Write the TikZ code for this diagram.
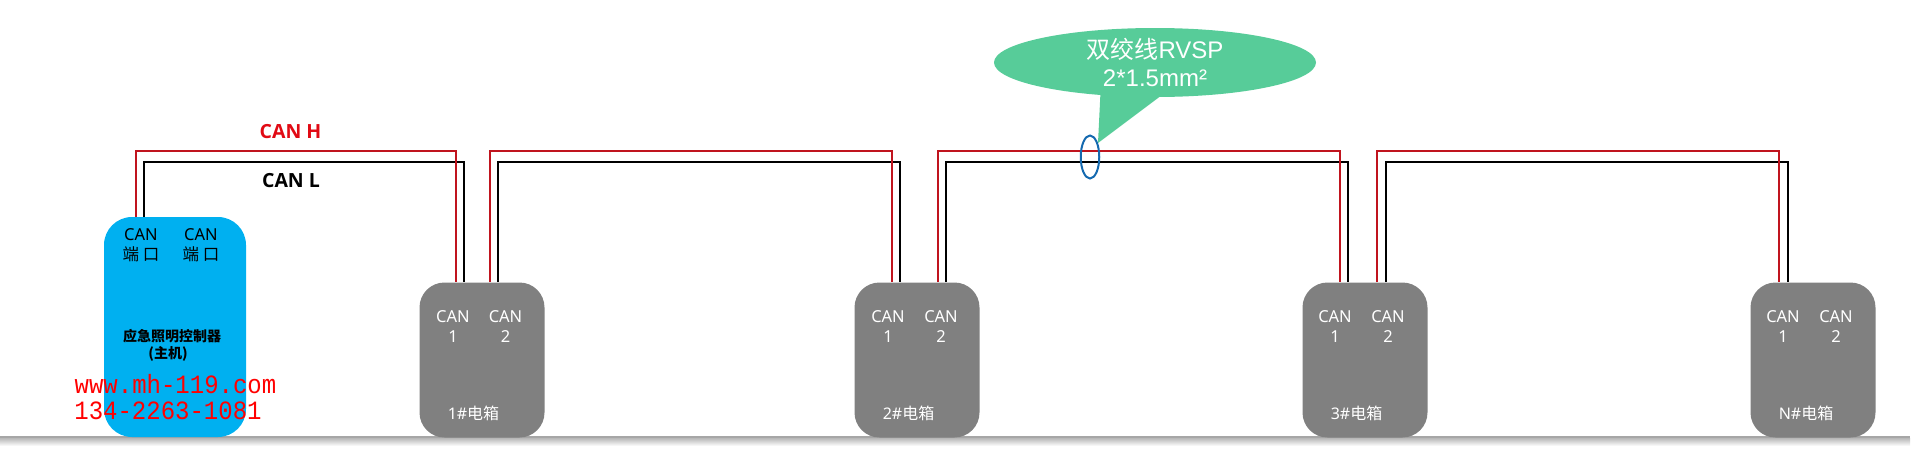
\documentclass[tikz,border=0pt]{standalone}
\usepackage{fontspec}
\setmainfont{Noto Sans}
\newfontfamily\cjk{Noto Sans CJK SC}
\newfontfamily\arialfont{Liberation Sans}
\newfontfamily\webfont{Liberation Mono}
\newfontfamily\wirefont{Open Sans}
\usetikzlibrary{shapes.geometric}
\definecolor{hostblue}{RGB}{0,176,240}
\definecolor{unitgray}{RGB}{128,128,128}
\definecolor{bubblegreen}{RGB}{87,204,153}
\definecolor{wirered}{RGB}{192,20,30}
\definecolor{namered}{RGB}{225,10,20}
\definecolor{ringblue}{RGB}{20,105,175}
\definecolor{groundgray}{RGB}{166,166,166}
\tikzset{
    hostbox/.style={rectangle, rounded corners=28pt, fill=hostblue, minimum width=142pt, minimum height=220pt, inner sep=0pt},
    unitbox/.style={rectangle, rounded corners=25pt, fill=unitgray, minimum width=125pt, minimum height=155pt, inner sep=0pt},
    portlabel/.style={align=center, font=\fontsize{16.5}{19.5}\selectfont, inner sep=0pt},
    unitname/.style={text=white, font=\fontsize{16}{19}\selectfont, inner sep=0pt},
    wireH/.style={draw=wirered, line width=2pt},
    wireL/.style={draw=black, line width=2pt},
    wirename/.style={font=\fontsize{19.5}{22}\wirefont\bfseries, inner sep=0pt},
    webtext/.style={text=red, font=\fontsize{24}{28}\webfont, inner sep=0pt, yscale=1.1}
}
\begin{document}
\begin{tikzpicture}[x=1pt, y=-1pt]
\useasboundingbox (0,0) rectangle (1912,469);
% ground
\fill [top color=black!28, bottom color=white] (0,438) rectangle (1910,446);
\draw [groundgray, line width=2pt] (0,437) -- (1910,437);
% boxes
\node [hostbox] (host) at (175,327) {};
\node [unitbox] (unit1) at (482,360) {};
\node [unitbox] (unit2) at (917,360) {};
\node [unitbox] (unit3) at (1365,360) {};
\node [unitbox] (unitN) at (1813,360) {};
% wire ends on the boxes
\coordinate (busH) at (0,150.5);
\coordinate (busL) at (0,162);
\coordinate (hostH) at (136,217);
\coordinate (hostL) at (144,217);
\coordinate (unit1inH) at (456,282);
\coordinate (unit1inL) at (464,282);
\coordinate (unit1outH) at (490,282);
\coordinate (unit1outL) at (498,282);
\coordinate (unit2inH) at (892,282);
\coordinate (unit2inL) at (900,282);
\coordinate (unit2outH) at (938,282);
\coordinate (unit2outL) at (946,282);
\coordinate (unit3inH) at (1340,282);
\coordinate (unit3inL) at (1348,282);
\coordinate (unit3outH) at (1377,282);
\coordinate (unit3outL) at (1386,282);
\coordinate (unitNinH) at (1779,282);
\coordinate (unitNinL) at (1788,282);
% wires
\draw [wireL] (hostL) -- (hostL |- busL) -- (unit1inL |- busL) -- (unit1inL);
\draw [wireH] (hostH) -- (hostH |- busH) -- (unit1inH |- busH) -- (unit1inH);
\draw [wireL] (unit1outL) -- (unit1outL |- busL) -- (unit2inL |- busL) -- (unit2inL);
\draw [wireH] (unit1outH) -- (unit1outH |- busH) -- (unit2inH |- busH) -- (unit2inH);
\draw [wireL] (unit2outL) -- (unit2outL |- busL) -- (unit3inL |- busL) -- (unit3inL);
\draw [wireH] (unit2outH) -- (unit2outH |- busH) -- (unit3inH |- busH) -- (unit3inH);
\draw [wireL] (unit3outL) -- (unit3outL |- busL) -- (unitNinL |- busL) -- (unitNinL);
\draw [wireH] (unit3outH) -- (unit3outH |- busH) -- (unitNinH |- busH) -- (unitNinH);
% callout
\node [ellipse, fill=bubblegreen, minimum width=322pt, minimum height=69pt, inner sep=0pt] (bubble) at (1155,62.5) {};
\coordinate (tailA) at (1100.5,92);
\coordinate (tailB) at (1162,95);
\coordinate (tailTip) at (1098,143);
\fill [bubblegreen] (tailA) -- (tailTip) -- (tailB) -- cycle;
\node [text=white, align=center, inner sep=0pt, font=\fontsize{24}{28}\arialfont] (bubbletext) at (1155,62) {{\cjk 双绞线}RVSP\\2*1.5mm²};
\node [ellipse, draw=ringblue, line width=2pt, minimum width=18.5pt, minimum height=43pt, inner sep=0pt] (ring) at (1090,157) {};
% wire names
\node [wirename, text=namered] (nameH) at (290.5,132) {CAN H};
\node [wirename] (nameL) at (291,180.5) {CAN L};
% host labels
\node [portlabel] (hostA) at (141,245) {CAN\\{\cjk 端 口}};
\node [portlabel] (hostB) at (201,245) {CAN\\{\cjk 端 口}};
\node [align=center, inner sep=0pt, font=\fontsize{14}{17}\cjk\bfseries] (hostname) at (172,345) {应急照明控制器\\(主机)\hspace*{8pt}};
\node [webtext] (web) at (175.5,384) {www.mh-119.com};
\node [webtext] (phone) at (168,411) {134-2263-1081};
% port labels
\node [portlabel, text=white] (unit1A) at (453,326.5) {CAN\\1};
\node [portlabel, text=white] (unit1B) at (505.5,326.5) {CAN\\2};
\node [portlabel, text=white] (unit2A) at (888,326.5) {CAN\\1};
\node [portlabel, text=white] (unit2B) at (941,326.5) {CAN\\2};
\node [portlabel, text=white] (unit3A) at (1335,326.5) {CAN\\1};
\node [portlabel, text=white] (unit3B) at (1388,326.5) {CAN\\2};
\node [portlabel, text=white] (unitNA) at (1783,326.5) {CAN\\1};
\node [portlabel, text=white] (unitNB) at (1836,326.5) {CAN\\2};
% unit names
\node [unitname] (name1) at (473.5,413) {1\#{\cjk 电箱}};
\node [unitname] (name2) at (908.5,413) {2\#{\cjk 电箱}};
\node [unitname] (name3) at (1356.5,413) {3\#{\cjk 电箱}};
\node [unitname] (nameN) at (1806,413) {N\#{\cjk 电箱}};
\end{tikzpicture}
\end{document}
